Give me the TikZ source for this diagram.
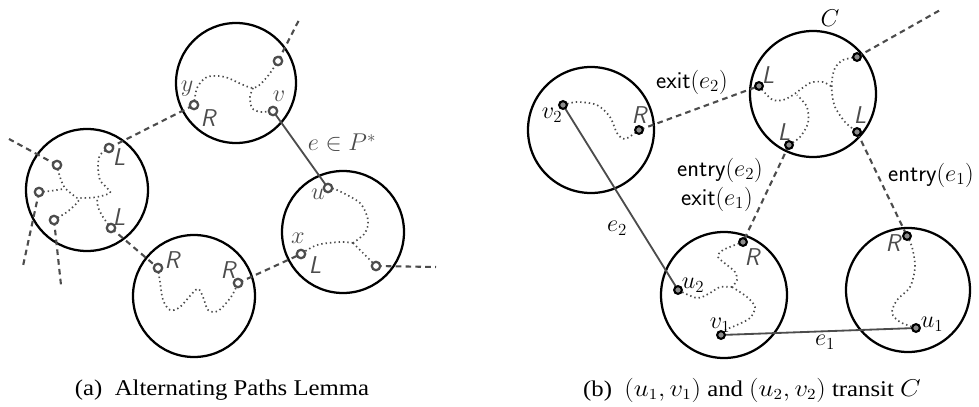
\documentclass[tikz,border=0pt]{standalone}
\usepackage{amsmath, amssymb}
\usepackage{fontspec}
\setmainfont{Liberation Serif}
\usetikzlibrary{positioning}

\begin{document}
\begin{tikzpicture}[x=0.025cm, y=-0.025cm,
    circ/.style={black, line width=1.6pt},
    link/.style={black!70, line width=1.5pt, dash pattern=on 4pt off 3pt},
    trail/.style={black!70, line width=1.2pt, dash pattern=on 1pt off 2.1pt},
    edge/.style={black!70, line width=1.3pt},
    pa/.style={circle, draw=black!70, fill=white, line width=1.6pt, inner sep=0pt, minimum size=6pt},
    pb/.style={circle, draw=black, fill=black!45, line width=1.5pt, inner sep=0pt, minimum size=5.5pt},
    lr/.style={black!70, font=\fontsize{17.28}{17}\sffamily\slshape, inner sep=0pt},
    mlab/.style={black!70, font=\fontsize{17.28}{17}\selectfont, inner sep=0pt},
    slab/.style={black, font=\fontsize{17.28}{17}\sffamily, inner sep=0pt},
    subcap/.style={black, font=\fontsize{16}{18}\selectfont, inner sep=0pt}]
  \useasboundingbox (0,0) rectangle (979,407);

  % ---------- (a) ----------
  % Cluster
  \draw[circ] (236,83) circle (60);
  \draw[circ] (87,190) circle (61);
  \draw[circ] (194,296) circle (61);
  \draw[circ] (343,232) circle (61);

  % Punkte
  \coordinate (ay) at (194,105);
  \coordinate (atr) at (278,61);
  \coordinate (av) at (273,111);
  \coordinate (au) at (328,188);
  \coordinate (ax) at (301,254);
  \coordinate (ar4) at (376,266);
  \coordinate (a3l) at (158,268);
  \coordinate (a3r) at (238,283);
  \coordinate (a2lt) at (109,148);
  \coordinate (a2lb) at (111,228);
  \coordinate (a2p1) at (57,165);
  \coordinate (a2p2) at (39,192);
  \coordinate (a2p3) at (54,220);
  % lose Enden
  \coordinate (atrx) at (300,18);
  \coordinate (ar4x) at (436,267);
  \coordinate (a2p1x) at (9,139);
  \coordinate (a2p2x) at (23,266);
  \coordinate (a2p3x) at (61,285);

  % Pfade im Cluster
  \draw[trail] plot[smooth] coordinates {(ay) (197,88) (207,77) (225,77) (253,88) (267,77) (atr)};
  \draw[trail] plot[smooth] coordinates {(253,88) (250,97) (252,108) (260,112) (av)};
  \draw[trail] plot[smooth] coordinates {(au) (337,190) (360,203) (368,220) (365,233) (353,243)};
  \draw[trail] plot[smooth] coordinates {(353,243) (340,242) (317,245) (ax)};
  \draw[trail] plot[smooth] coordinates {(353,243) (363,253) (ar4)};
  \draw[trail] plot[smooth] coordinates {(a3l) (160,282) (163,300) (170,310) (180,307) (197,289) (203,297) (208,310) (218,311) (231,297) (a3r)};
  \draw[trail] plot[smooth] coordinates {(a2lt) (100,155) (98,167) (100,180) (107,188) (110,193) (97,197) (83,198) (77,198)};
  \draw[trail] plot[smooth] coordinates {(a2p1) (60,177) (65,188) (77,198)};
  \draw[trail] plot[smooth] coordinates {(a2p2) (50,191) (63,189)};
  \draw[trail] plot[smooth] coordinates {(a2lb) (103,217) (98,207) (97,197)};
  \draw[trail] plot[smooth] coordinates {(a2p3) (67,212) (77,203) (80,198)};

  % Kanten
  \draw[link] (a2lt) -- (ay);
  \draw[link] (a2lb) -- (a3l);
  \draw[link] (a3r) -- (ax);
  \draw[link] (atr) -- (atrx);
  \draw[link] (ar4) -- (ar4x);
  \draw[link] (a2p1) -- (a2p1x);
  \draw[link] (a2p2) -- (a2p2x);
  \draw[link] (a2p3) -- (a2p3x);
  \draw[edge] (av) -- (au);

  \foreach \p in {ay,atr,av,au,ax,ar4,a3l,a3r,a2lt,a2lb,a2p1,a2p2,a2p3}
    \node[pa] (m\p) at (\p) {};

  % Beschriftung
  \node[mlab] (ly) at (187,89) {$y$};
  \node[lr] (lRy) at (208,118) {R};
  \node[mlab] (lv) at (279,96) {$v$};
  \node[mlab] (lu) at (318,194) {$u$};
  \node[mlab] (lx) at (298,238) {$x$};
  \node[lr] (lLx) at (315,265) {L};
  \node[mlab] (le) at (342,143) {$e\in P^*$};
  \node[lr] (lR3l) at (172,260) {R};
  \node[lr] (lR3r) at (228,270) {R};
  \node[lr] (lL2t) at (119,157) {L};
  \node[lr] (lL2b) at (119,217) {L};

  % ---------- (b) ----------
  \draw[circ] (591,130) circle (63);
  \draw[circ] (813,94) circle (63);
  \draw[circ] (724,295) circle (63);
  \draw[circ] (908,290) circle (62);
  \node[mlab, black] (lC) at (830,18) {$C$};

  \coordinate (bv2) at (563,105);
  \coordinate (br1) at (639,130);
  \coordinate (bcl) at (759,86);
  \coordinate (bctr) at (857,57);
  \coordinate (bcll) at (789,145);
  \coordinate (bclr) at (857,132);
  \coordinate (br3) at (743,242);
  \coordinate (bu2) at (678,290);
  \coordinate (bv1) at (721,335);
  \coordinate (br4) at (907,236);
  \coordinate (bu1) at (916,328);
  \coordinate (bctrx) at (942,9);

  \draw[trail] plot[smooth] coordinates {(bv2) (577,102) (597,105) (610,117) (617,133) (625,139) (br1)};
  \draw[trail] plot[smooth] coordinates {(bcl) (765,93) (773,100) (783,100) (793,95) (810,83) (823,82) (832,87)};
  \draw[trail] plot[smooth] coordinates {(bcll) (800,137) (808,123) (807,107) (797,95)};
  \draw[trail] plot[smooth] coordinates {(bctr) (843,60) (835,68) (832,80) (832,93) (835,107) (845,122) (bclr)};
  \draw[trail] plot[smooth] coordinates {(br3) (723,250) (718,257) (727,265) (735,272) (737,280) (732,287)};
  \draw[trail] plot[smooth] coordinates {(732,287) (720,287) (710,293) (697,298) (bu2)};
  \draw[trail] plot[smooth] coordinates {(732,287) (747,297) (755,307) (750,318) (737,325) (725,330) (bv1)};
  \draw[trail] plot[smooth] coordinates {(br4) (912,247) (915,267) (910,287) (897,300) (892,313) (900,322) (bu1)};

  \draw[link] (br1) -- (bcl);
  \draw[link] (bctr) -- (bctrx);
  \draw[link] (bcll) -- (br3);
  \draw[link] (bclr) -- (br4);
  \draw[edge] (bv2) -- (bu2);
  \draw[edge] (bv1) -- (bu1);

  \foreach \p in {bv2,br1,bcl,bctr,bcll,bclr,br3,bu2,bv1,br4,bu1}
    \node[pb] (m\p) at (\p) {};

  \node[mlab, black] (lv2) at (552,115) {$v_2$};
  \node[lr] (lRb1) at (639,115) {R};
  \node[slab] (lx2) at (692,82) {exit$(e_2)$};
  \node[lr] (lLc1) at (768,75) {L};
  \node[lr] (lLc2) at (784,132) {L};
  \node[lr] (lLc3) at (860,115) {L};
  \node[slab] (ln2) at (720,170) {entry$(e_2)$};
  \node[slab] (lx1) at (717,199) {exit$(e_1)$};
  \node[slab] (ln1) at (931,175) {entry$(e_1)$};
  \node[lr] (lRb3) at (752,257) {R};
  \node[mlab, black] (lu2) at (693,285) {$u_2$};
  \node[mlab, black] (lv1) at (720,325) {$v_1$};
  \node[mlab, black] (le2) at (617,228) {$e_2$};
  \node[lr] (lRb4) at (893,243) {R};
  \node[mlab, black] (lu1) at (932,324) {$u_1$};
  \node[mlab, black] (le1) at (825,342) {$e_1$};

  % Unterschriften
  \node[subcap] (capa) at (222,390) {\scalebox{1.1}[1]{(a)\ \ Alternating Paths Lemma}};
  \node[subcap] (capb) at (752,390) {\scalebox{1.1}[1]{(b)\ \ $(u_1,v_1)$ and $(u_2,v_2)$ transit $C$}};
\end{tikzpicture}
\end{document}
